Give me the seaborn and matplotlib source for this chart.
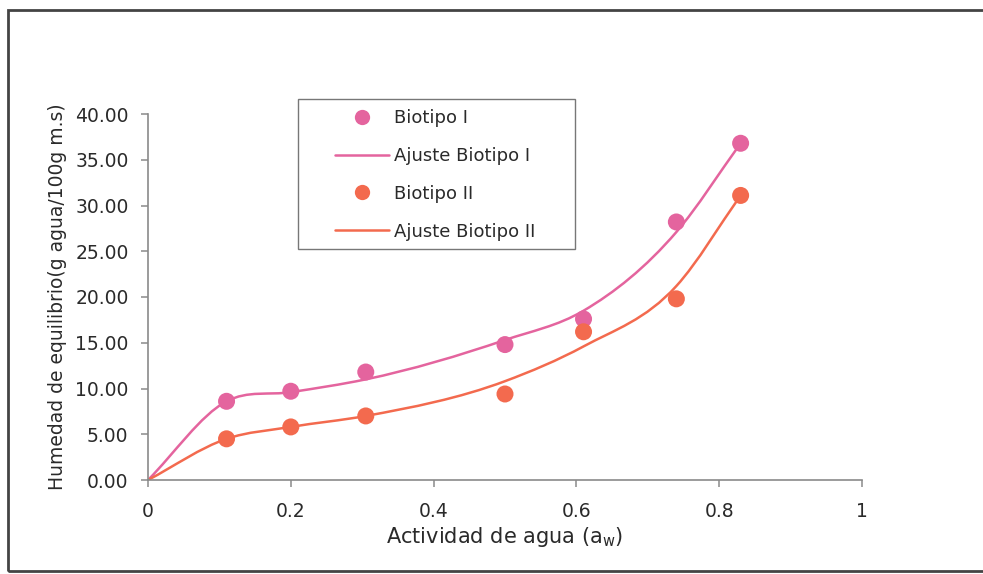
import numpy as np
import pandas as pd
import seaborn as sns
import matplotlib
matplotlib.use("Agg")
import matplotlib.pyplot as plt
from matplotlib.path import Path
from matplotlib.patches import PathPatch, Rectangle
from matplotlib.lines import Line2D

# Measured water activity and equilibrium moisture content
aw = [0.11, 0.20, 0.305, 0.50, 0.61, 0.74, 0.83]
humedad_b1 = [8.6, 9.7, 11.8, 14.8, 17.6, 28.2, 36.8]
humedad_b2 = [4.5, 5.8, 7.0, 9.4, 16.2, 19.8, 31.1]

# Fitted isotherm values (curve starts at the origin)
aw_fit = [0.0, 0.11, 0.20, 0.305, 0.50, 0.61, 0.74, 0.83]
ajuste_b1 = [0.0, 8.6, 9.6, 11.0, 15.3, 18.5, 27.1, 36.8]
ajuste_b2 = [0.0, 4.5, 5.8, 7.0, 10.8, 14.6, 21.2, 31.1]

series_names = ["Biotipo I", "Biotipo II"]
fit_names = ["Ajuste Biotipo I", "Ajuste Biotipo II"]
colors = ["#E4649E", "#F36A4E"]

x_ticks = [0, 0.2, 0.4, 0.6, 0.8, 1]
x_tick_labels = ["0", "0.2", "0.4", "0.6", "0.8", "1"]
y_ticks = [0, 5, 10, 15, 20, 25, 30, 35, 40]

TEXT = "#2a2a2a"

sns.set_theme(style="white")
plt.rcParams["font.family"] = ["DejaVu Sans"]

W, H = 983, 574
fig = plt.figure(figsize=(W / 100, H / 100), dpi=100)
ax = fig.add_axes([148 / W, 1 - 480 / H, (862 - 148) / W, (480 - 114) / H])

df = pd.DataFrame({
    "aw": aw * 2,
    "humedad": humedad_b1 + humedad_b2,
    "serie": [series_names[0]] * len(aw) + [series_names[1]] * len(aw),
})


def smooth_path(xs, ys):
    """Piecewise cubic Hermite curve through the points, as a Bezier path."""
    x = np.asarray(xs, float)
    y = np.asarray(ys, float)
    h = np.diff(x)
    d = np.diff(y) / h
    m = np.empty_like(y)
    m[0], m[-1] = d[0], d[-1]
    for i in range(1, len(x) - 1):
        m[i] = (h[i] * d[i - 1] + h[i - 1] * d[i]) / (h[i - 1] + h[i])
    verts = [(x[0], y[0])]
    codes = [Path.MOVETO]
    for i in range(len(x) - 1):
        t = h[i] / 3.0
        verts += [(x[i] + t, y[i] + m[i] * t),
                  (x[i + 1] - t, y[i + 1] - m[i + 1] * t),
                  (x[i + 1], y[i + 1])]
        codes += [Path.CURVE4] * 3
    return Path(verts, codes)


for fy, col in [(ajuste_b1, colors[0]), (ajuste_b2, colors[1])]:
    ax.add_patch(PathPatch(smooth_path(aw_fit, fy), fill=False, edgecolor=col,
                           lw=1.8, transform=ax.transData, zorder=2,
                           capstyle="round", joinstyle="round"))

sns.scatterplot(data=df, x="aw", y="humedad", hue="serie",
                palette=dict(zip(series_names, colors)), s=150,
                edgecolor="none", legend=False, ax=ax, zorder=3)

ax.set_xlim(0, 1)
ax.set_ylim(0, 40)
ax.set_xticks(x_ticks)
ax.set_xticklabels(x_tick_labels)
ax.set_yticks(y_ticks)
ax.set_yticklabels([f"{v:.2f}" for v in y_ticks])

for side in ["top", "right"]:
    ax.spines[side].set_visible(False)
for side in ["left", "bottom"]:
    ax.spines[side].set_color("#8a8a8a")
    ax.spines[side].set_linewidth(1.2)

ax.tick_params(axis="both", which="major", direction="out", length=5,
               width=1.1, color="#8a8a8a", labelsize=13.5, labelcolor=TEXT)
ax.tick_params(axis="x", pad=11)
ax.tick_params(axis="y", pad=9)
ax.tick_params(left=True, bottom=True)

ax.set_xlabel("Actividad de agua (a$\\mathregular{_w}$)", fontsize=15, color=TEXT)
ax.set_ylabel("Humedad de equilibrio(g agua/100g m.s)", fontsize=13.5, color=TEXT)
ax.xaxis.set_label_coords(0.5, -0.155)
ax.xaxis.label.set_va("center")
ax.yaxis.set_label_coords(-0.127, 0.5)
ax.yaxis.label.set_va("center")

handles = [
    Line2D([], [], ls="none", marker="o", ms=11, color=colors[0], mec="none"),
    Line2D([], [], color=colors[0], lw=1.8),
    Line2D([], [], ls="none", marker="o", ms=11, color=colors[1], mec="none"),
    Line2D([], [], color=colors[1], lw=1.8),
]
labels = [series_names[0], fit_names[0], series_names[1], fit_names[1]]
fig.legend(handles, labels, loc="upper left",
           bbox_to_anchor=(335 / W, 1 - 109 / H), frameon=False,
           borderpad=0, borderaxespad=0, handlelength=3.0, handletextpad=0.25,
           labelspacing=1.1, fontsize=13, labelcolor=TEXT)

# Legend box and outer chart frame
fig.add_artist(Rectangle((298 / W, 1 - 249 / H), (575 - 298) / W, (249 - 99) / H,
                         transform=fig.transFigure, fill=False,
                         edgecolor="#777777", lw=1.0))
fig.add_artist(Rectangle((8 / W, 1 - 571 / H), 1.2, (571 - 10) / H,
                         transform=fig.transFigure, fill=False,
                         edgecolor="#444444", lw=2.0, clip_on=False))

fig.savefig("out.png", dpi=100)
